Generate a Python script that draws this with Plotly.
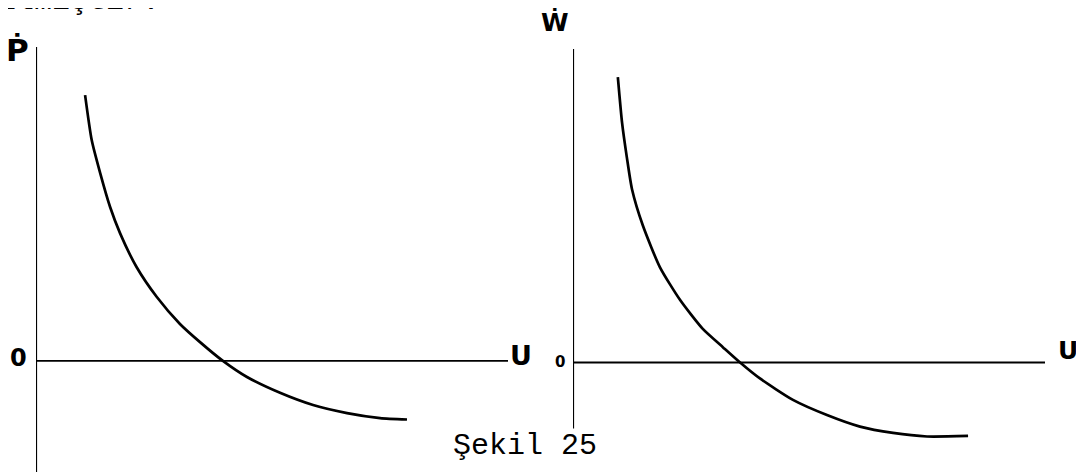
import plotly.graph_objects as go

# Left panel: price inflation vs unemployment
u_left = [1.04, 1.18, 1.36, 1.57, 1.78, 2.13, 2.56, 3.05, 3.50, 3.96, 4.47, 5.17, 5.87, 6.59, 7.29, 7.86]
p_dot = [9.57, 7.95, 6.76, 5.54, 4.60, 3.38, 2.30, 1.33, 0.64, 0.00, -0.58, -1.15, -1.59, -1.88, -2.06, -2.11]

# Right panel: wage inflation vs unemployment
u_right = [0.95, 1.04, 1.14, 1.25, 1.48, 1.84, 2.27, 2.75, 3.18, 3.54, 3.96, 4.66, 5.38, 6.08, 6.78, 7.50, 8.37]
w_dot = [10.38, 8.71, 7.47, 6.30, 4.98, 3.47, 2.27, 1.22, 0.55, 0.00, -0.58, -1.36, -1.91, -2.33, -2.56, -2.69, -2.67]

left_label, right_label = "Ṗ", "Ẇ"
x_label = "U"
zero_label = "0"
caption = "Şekil 25"
top_text = "ılmiştir."

# page body has an 8px default margin: size the figure to fit the window
OFF = 8
W, H = 1084 - OFF, 474 - OFF


def px(x):
    return (x - OFF) / W


def py(y):
    return 1 - (y - OFF) / H


fig = go.Figure()
line_style = dict(color="black", width=2.7, shape="spline", smoothing=0.6)
fig.add_trace(go.Scatter(x=u_left, y=p_dot, mode="lines", line=line_style,
                         xaxis="x", yaxis="y", showlegend=False, hoverinfo="skip"))
fig.add_trace(go.Scatter(x=u_right, y=w_dot, mode="lines", line=line_style,
                         xaxis="x2", yaxis="y2", showlegend=False, hoverinfo="skip"))

hidden = dict(visible=False, fixedrange=True)
fig.update_layout(
    width=W, height=H,
    margin=dict(l=0, r=0, t=0, b=0),
    paper_bgcolor="white", plot_bgcolor="rgba(0,0,0,0)",
    xaxis=dict(domain=[px(36), px(508)], range=[0, 10], anchor="y", **hidden),
    yaxis=dict(domain=[py(472), py(47)], range=[-4, 11.3], anchor="x", **hidden),
    xaxis2=dict(domain=[px(573), px(1045)], range=[0, 10], anchor="y2", **hidden),
    yaxis2=dict(domain=[py(445), py(49)], range=[-3.0, 11.4], anchor="x2", **hidden),
)

axis_line = dict(color="black", width=2.2)
shapes = [
    dict(type="line", xref="x", yref="y", x0=0, x1=0, y0=-4, y1=11.3, line=axis_line),
    dict(type="line", xref="x", yref="y", x0=0, x1=10, y0=0, y1=0, line=dict(color="black", width=1.8)),
    dict(type="line", xref="x2", yref="y2", x0=0, x1=0, y0=-2.4, y1=11.4, line=axis_line),
    dict(type="line", xref="x2", yref="y2", x0=0, x1=10, y0=0, y1=0, line=dict(color="black", width=1.8)),
]
fig.update_layout(shapes=shapes)

sans = "DejaVu Sans"
mono = "Liberation Mono"


def label(xp, yp, text, family, size, xanchor="center"):
    return dict(x=px(xp), y=py(yp), xref="paper", yref="paper", text=text, showarrow=False,
                xanchor=xanchor, yanchor="middle",
                font=dict(family=family, size=size, color="black"))


ann = [
    label(4, 50, "<b>" + left_label + "</b>", sans, 31, xanchor="left"),
    label(555, 22, "<b>" + right_label + "</b>", sans, 25),
    label(521, 355, "<b>" + x_label + "</b>", sans, 27),
    label(1068, 350, "<b>" + x_label + "</b>", sans, 25),
    label(18, 358, "<b>" + zero_label + "</b>", sans, 24),
    label(560, 362, "<b>" + zero_label + "</b>", sans, 15),
    label(525, 446, caption, mono, 30),
    label(-4, 1, top_text, mono, 30, xanchor="left"),
]
fig.update_layout(annotations=ann)

fig.write_html("out.html")
